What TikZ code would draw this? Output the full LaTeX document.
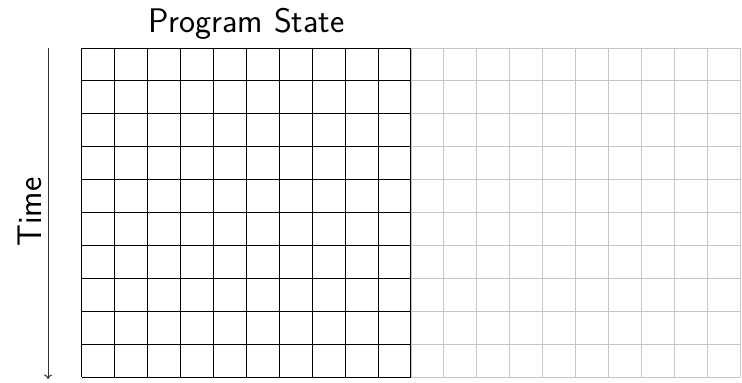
\documentclass[tikz,border=0pt]{standalone}
\usetikzlibrary{arrows.meta}
\begin{document}
\begin{tikzpicture}[x=1cm,y=1cm,
  lbl/.style={font=\sffamily\fontsize{29.5}{34}\selectfont, inner sep=0pt},
  blackgrid/.style={black, line width=0.9pt},
  graygrid/.style={gray!45, line width=0.9pt},
  timearrow/.style={gray!40!black, line width=0.9pt, -{To[length=4pt,width=7pt]}}]
\useasboundingbox (0,0) rectangle (22.55,-11.61);
\begin{scope}
\clip (0,0) rectangle (22.55,-11.61);
\begin{scope}[shift={(12.49,-1.46)}]
\draw[graygrid] (0,0) grid (10,-10);
\end{scope}
\end{scope}
\begin{scope}[shift={(2.49,-1.46)}]
\draw[blackgrid] (0,0) grid (10,-10);
\end{scope}
\coordinate (atop) at (1.46,-1.46);
\coordinate (abot) at (1.46,-11.52);
\draw[timearrow] (atop) -- (abot);
\node[lbl] (title) at (7.49,-0.73) {Program State};
\node[lbl, rotate=90] (time) at (0.92,-6.45) {Time};
\end{tikzpicture}
\end{document}
